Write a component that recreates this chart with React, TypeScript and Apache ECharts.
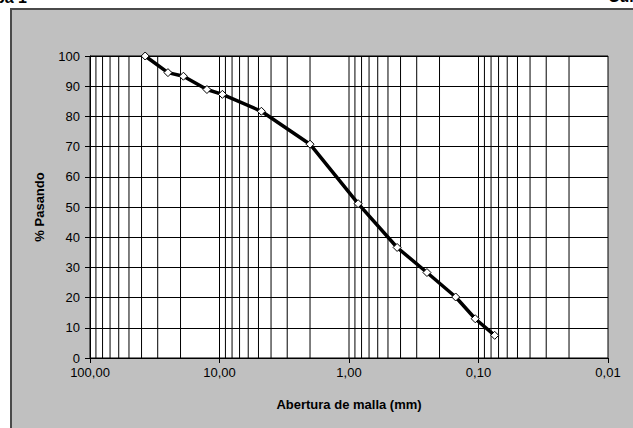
import React, { useEffect, useRef } from "react";
import * as echarts from "echarts";

const sieveSizes = [37.5, 25, 19, 12.5, 9.5, 4.75, 2.0, 0.85, 0.425, 0.25, 0.15, 0.106, 0.075];
const percentPassing = [100, 94.5, 93.3, 88.9, 87.3, 81.7, 70.8, 51.1, 36.6, 28.3, 20.2, 13.0, 7.5];
const gridValues = [
  90, 80, 70, 60, 50, 40, 30, 20, 10,
  9, 8, 7, 6, 5, 4, 3, 2, 1,
  0.9, 0.8, 0.7, 0.6, 0.5, 0.4, 0.3, 0.2, 0.1,
  0.09, 0.08, 0.07, 0.06, 0.05, 0.04, 0.03, 0.02,
];
const yTicks = [0, 10, 20, 30, 40, 50, 60, 70, 80, 90, 100];

export default function App() {
  const ref = useRef<HTMLDivElement>(null);
  useEffect(() => {
    if (!ref.current) return;
    const chart = echarts.init(ref.current, null, { renderer: "svg" });
    const font = "Arial, 'Liberation Sans', sans-serif";
    const gridSeries = gridValues.map((v) => ({
      type: "line",
      data: [[v, yTicks[0]], [v, yTicks[yTicks.length - 1]]],
      symbol: "none",
      silent: true,
      lineStyle: { color: "#000", width: 1 },
      z: 1,
    }));
    chart.setOption({
      animation: false,
      backgroundColor: "transparent",
      textStyle: { fontFamily: font },
      grid: {
        left: 90,
        right: 25,
        top: 56,
        bottom: 70,
        show: true,
        backgroundColor: "#fff",
        borderColor: "#000",
        borderWidth: 1,
      },
      xAxis: {
        type: "log",
        logBase: 10,
        min: 0.01,
        max: 100,
        inverse: true,
        name: "Abertura de malla (mm)",
        nameLocation: "middle",
        nameGap: 40,
        nameTextStyle: { fontWeight: "bold", fontSize: 13, color: "#000", fontFamily: font },
        axisLine: { show: true, lineStyle: { color: "#000", width: 1 } },
        axisTick: { show: true, inside: false, length: 5, lineStyle: { color: "#000" } },
        axisLabel: {
          fontSize: 13,
          color: "#000",
          margin: 8,
          fontFamily: font,
          formatter: (v: number) => v.toFixed(2).replace(".", ","),
        },
        splitLine: { show: false },
      },
      yAxis: {
        type: "value",
        min: 0,
        max: 100,
        interval: 10,
        name: "% Pasando",
        nameLocation: "middle",
        nameGap: 44,
        nameRotate: 90,
        nameTextStyle: { fontWeight: "bold", fontSize: 13, color: "#000", fontFamily: font },
        axisLine: { show: true, lineStyle: { color: "#000", width: 1 } },
        axisTick: { show: true, inside: false, length: 5, lineStyle: { color: "#000" } },
        axisLabel: { fontSize: 13, color: "#000", margin: 10, fontFamily: font },
        splitLine: { show: true, lineStyle: { color: "#000", width: 1 } },
      },
      series: [
        ...gridSeries,
        {
          type: "line",
          data: sieveSizes.map((s, i) => [s, percentPassing[i]]),
          symbol: "diamond",
          symbolSize: 8,
          lineStyle: { color: "#000", width: 3.5 },
          itemStyle: { color: "#fff", borderColor: "#000", borderWidth: 1 },
          z: 5,
        },
      ],
      graphic: [
        {
          type: "text",
          left: -30,
          top: -11,
          style: { text: "Etapa 1", font: "bold 16px Arial, 'Liberation Sans', sans-serif", fill: "#000" },
        },
        {
          type: "text",
          left: 608,
          top: -12,
          style: { text: "Curva", font: "bold 16px Arial, 'Liberation Sans', sans-serif", fill: "#000" },
        },
      ],
    });
    return () => chart.dispose();
  }, []);
  return (
    <div style={{ position: "fixed", left: 0, top: 0, width: 633, height: 428, background: "#fff", overflow: "hidden" }}>
      <div
        style={{
          position: "absolute",
          left: 10,
          top: 8,
          right: -4,
          bottom: -4,
          background: "#c0c0c0",
          border: "2px solid #4a4a4a",
        }}
      />
      <div ref={ref} style={{ position: "absolute", left: 0, top: 0, width: 633, height: 428 }} />
    </div>
  );
}
